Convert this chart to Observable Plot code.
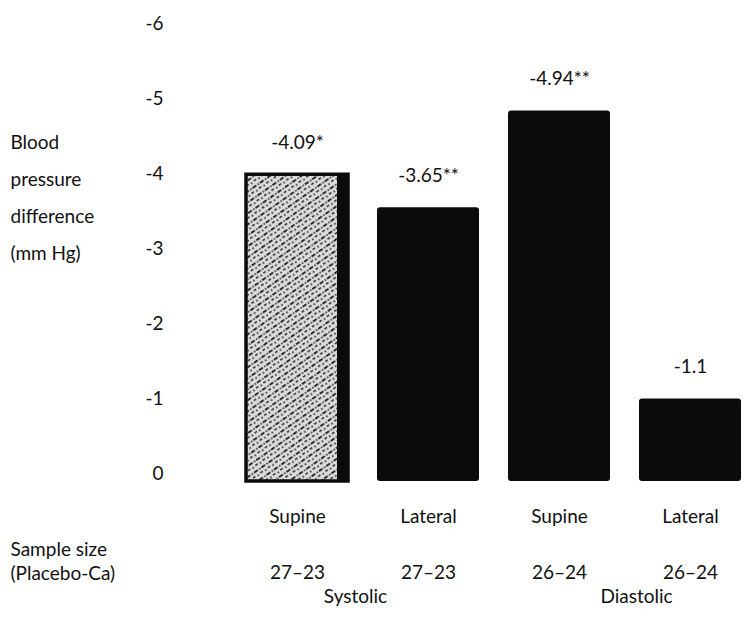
<!DOCTYPE html>
<html>
<head>
<meta charset="utf-8">
<script src="https://cdn.jsdelivr.net/npm/d3@7"></script>
<script src="https://cdn.jsdelivr.net/npm/@observablehq/plot@0.6"></script>
<style>
  html, body { margin: 0; padding: 0; background: #fff; }
  #chart svg { display: block; }
</style>
</head>
<body>
<div id="chart"></div>
<script>
// ---- data ----
const categories = ["Systolic Supine", "Systolic Lateral", "Diastolic Supine", "Diastolic Lateral"];
const positions = ["Supine", "Lateral", "Supine", "Lateral"];
const values = [-4.09, -3.65, -4.94, -1.1];
const valueLabels = ["-4.09*", "-3.65**", "-4.94**", "-1.1"];
const sampleSizes = ["27–23", "27–23", "26–24", "26–24"];
const groups = ["Systolic", "Diastolic"];
const yTicks = [0, -1, -2, -3, -4, -5, -6];
const yTitle = ["Blood", "pressure", "difference", "(mm Hg)"];
const sampleTitle = ["Sample size", "(Placebo-Ca)"];

const data = categories.map((c, i) => ({
  cat: c, pos: positions[i], value: values[i], label: valueLabels[i], n: sampleSizes[i], textured: i === 0
}));

const FS = 19;
const ink = "#111";

const chart = Plot.plot({
  width: 743,
  height: 618,
  marginLeft: 245,
  marginRight: 1,
  marginTop: 31,
  marginBottom: 137,
  x: { domain: categories, range: [245, 742], paddingInner: 0.22, paddingOuter: 0, axis: null },
  y: { domain: [0, -6], axis: null },
  style: { fontFamily: "Lato, 'Open Sans', sans-serif", fontSize: FS + "px", color: ink, background: "white" },
  marks: [
    Plot.barY(data.filter(d => !d.textured), { x: "cat", y: "value", fill: "#0b0b0b", rx: 3 }),
    Plot.barY(data.filter(d => d.textured), { x: "cat", y: "value", fill: "url(#speckle)", stroke: "#0b0b0b", strokeWidth: 3.5 }),
    Plot.barY(data.filter(d => d.textured), { x: "cat", y: "value", fill: "#0b0b0b", insetLeft: 91 }),
    Plot.axisY({
      ticks: yTicks, tickSize: 0, tickPadding: 82, dy: -8, label: null,
      tickFormat: d => d === 0 ? "0" : "-" + Math.abs(d),
      fontSize: FS, fill: ink
    }),
    Plot.text(data, { x: "cat", y: "value", text: "label", dy: -32, fontSize: FS, fill: ink }),
    Plot.text(data, { x: "cat", text: "pos", frameAnchor: "bottom", lineAnchor: "middle", dy: 35, fontSize: FS, fill: ink }),
    Plot.text(data, { x: "cat", text: "n", frameAnchor: "bottom", lineAnchor: "middle", dy: 91, fontSize: FS, fill: ink }),
    Plot.text([groups[0]], { x: () => categories[0], text: d => d, frameAnchor: "bottom", lineAnchor: "middle", dy: 115, dx: 58, fontSize: FS, fill: ink }),
    Plot.text([groups[1]], { x: () => categories[2], text: d => d, frameAnchor: "bottom", lineAnchor: "middle", dy: 115, dx: 77, fontSize: FS, fill: ink }),
    Plot.text([yTitle.join("\n")], { text: d => d, frameAnchor: "left", textAnchor: "start", lineAnchor: "middle", dx: -235, dy: -64, lineHeight: 37 / FS, fontSize: FS, fill: ink }),
    Plot.text([sampleTitle.join("\n")], { text: d => d, frameAnchor: "bottom-left", textAnchor: "start", lineAnchor: "middle", dx: -235, dy: 79, lineHeight: 24 / FS, fontSize: FS, fill: ink })
  ]
});

// speckled texture for the first bar
const ns = "http://www.w3.org/2000/svg";
const defs = document.createElementNS(ns, "defs");
defs.innerHTML = `
<pattern id="speckle" width="9" height="9" patternUnits="userSpaceOnUse" patternTransform="rotate(-35)">
  <rect width="9" height="9" fill="#dcdcdc"/>
  <rect x="0" y="1" width="4.5" height="1.8" fill="#1a1a1a"/>
  <rect x="5" y="5" width="3" height="1.5" fill="#2a2a2a"/>
  <circle cx="7" cy="2" r="0.9" fill="#333"/>
  <circle cx="2" cy="6.5" r="1" fill="#333"/>
</pattern>`;
chart.insertBefore(defs, chart.firstChild);

document.getElementById("chart").appendChild(chart);
</script>
</body>
</html>
